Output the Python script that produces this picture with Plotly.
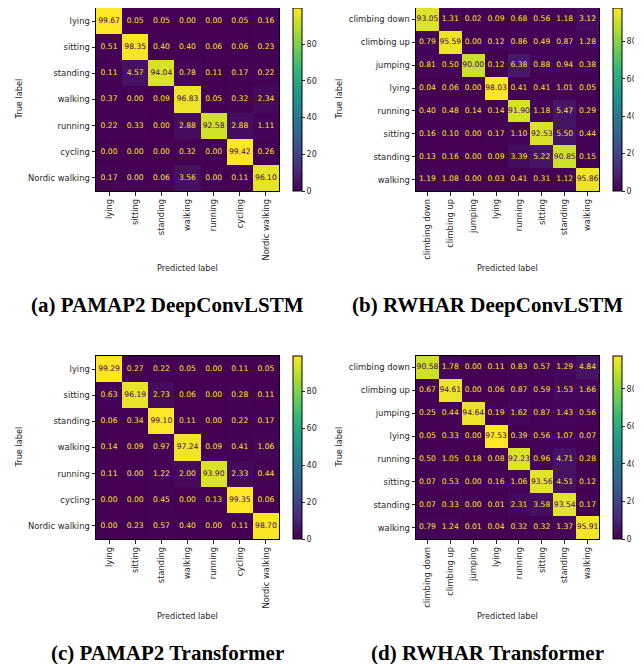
import plotly.graph_objects as go

OFF = 8  # default page body margin
W, H = 642 - OFF, 664 - OFF

pamap_labels = ["lying", "sitting", "standing", "walking", "running", "cycling", "Nordic walking"]
rwhar_labels = ["climbing down", "climbing up", "jumping", "lying", "running", "sitting", "standing", "walking"]

pamap_deepconv = [
    [99.67, 0.05, 0.05, 0.00, 0.00, 0.05, 0.16],
    [0.51, 98.35, 0.40, 0.40, 0.06, 0.06, 0.23],
    [0.11, 4.57, 94.04, 0.78, 0.11, 0.17, 0.22],
    [0.37, 0.00, 0.09, 96.83, 0.05, 0.32, 2.34],
    [0.22, 0.33, 0.00, 2.88, 92.58, 2.88, 1.11],
    [0.00, 0.00, 0.00, 0.32, 0.00, 99.42, 0.26],
    [0.17, 0.00, 0.06, 3.56, 0.00, 0.11, 96.10],
]
rwhar_deepconv = [
    [93.05, 1.31, 0.02, 0.09, 0.68, 0.56, 1.18, 3.12],
    [0.79, 95.59, 0.00, 0.12, 0.86, 0.49, 0.87, 1.28],
    [0.81, 0.50, 90.00, 0.12, 6.38, 0.88, 0.94, 0.38],
    [0.04, 0.06, 0.00, 98.03, 0.41, 0.41, 1.01, 0.05],
    [0.40, 0.48, 0.14, 0.14, 91.90, 1.18, 5.47, 0.29],
    [0.16, 0.10, 0.00, 0.17, 1.10, 92.53, 5.50, 0.44],
    [0.13, 0.16, 0.00, 0.09, 3.39, 5.22, 90.85, 0.15],
    [1.19, 1.08, 0.00, 0.03, 0.41, 0.31, 1.12, 95.86],
]
pamap_transformer = [
    [99.29, 0.27, 0.22, 0.05, 0.00, 0.11, 0.05],
    [0.63, 96.19, 2.73, 0.06, 0.00, 0.28, 0.11],
    [0.06, 0.34, 99.10, 0.11, 0.00, 0.22, 0.17],
    [0.14, 0.09, 0.97, 97.24, 0.09, 0.41, 1.06],
    [0.11, 0.00, 1.22, 2.00, 93.90, 2.33, 0.44],
    [0.00, 0.00, 0.45, 0.00, 0.13, 99.35, 0.06],
    [0.00, 0.23, 0.57, 0.40, 0.00, 0.11, 98.70],
]
rwhar_transformer = [
    [90.58, 1.78, 0.00, 0.11, 0.83, 0.57, 1.29, 4.84],
    [0.67, 94.61, 0.00, 0.06, 0.87, 0.59, 1.53, 1.66],
    [0.25, 0.44, 94.64, 0.19, 1.62, 0.87, 1.43, 0.56],
    [0.05, 0.33, 0.00, 97.53, 0.39, 0.56, 1.07, 0.07],
    [0.50, 1.05, 0.18, 0.08, 92.23, 0.96, 4.71, 0.28],
    [0.07, 0.53, 0.00, 0.16, 1.06, 93.56, 4.51, 0.12],
    [0.07, 0.33, 0.00, 0.01, 2.31, 3.58, 93.54, 0.17],
    [0.79, 1.24, 0.01, 0.04, 0.32, 0.32, 1.37, 95.91],
]
captions = ["(a) PAMAP2 DeepConvLSTM", "(b) RWHAR DeepConvLSTM",
            "(c) PAMAP2 Transformer", "(d) RWHAR Transformer"]
cbar_ticks = [0, 20, 40, 60, 80]

panels = [
    (pamap_deepconv, pamap_labels, 96, 8),
    (rwhar_deepconv, rwhar_labels, 416, 8),
    (pamap_transformer, pamap_labels, 96, 356),
    (rwhar_transformer, rwhar_labels, 416, 356),
]
caption_pos = [(167, 305), (487, 305), (167, 653), (487, 653)]
SIZE = 183
YELLOW = "#fde725"
PURPLE = "#440154"
TICKCOL = "#262626"


def fx(p):
    return min(max((p - OFF) / W, 0), 1)


def fy(p):
    return min(max(1 - (p - OFF) / H, 0), 1)


fig = go.Figure()
layout = {}
annotations = []

for i, (mat, labels, px, py) in enumerate(panels):
    k = i + 1
    xa = "x" if k == 1 else f"x{k}"
    ya = "y" if k == 1 else f"y{k}"
    n = len(labels)
    flat = [v for row in mat for v in row]
    zmax = max(flat)
    zmin = min(flat)
    thresh = (zmax + zmin) / 2
    fig.add_trace(go.Heatmap(
        z=mat, x=list(range(n)), y=list(range(n)), xaxis=xa, yaxis=ya,
        colorscale="Viridis", zmin=zmin, zmax=zmax, hoverinfo="skip",
        colorbar=dict(
            x=fx(px + SIZE + 14), xanchor="left", xref="paper",
            y=fy(py + SIZE / 2), yanchor="middle", yref="paper",
            len=SIZE, lenmode="pixels", thickness=9, thicknessmode="pixels",
            xpad=0, ypad=0, outlinewidth=1, outlinecolor="black",
            tickvals=cbar_ticks, ticks="outside", ticklen=3, tickcolor=TICKCOL,
            tickfont=dict(family="DejaVu Sans", size=8, color=TICKCOL),
        ),
    ))
    xs, ys, txt, cols = [], [], [], []
    for r in range(n):
        for c in range(n):
            v = mat[r][c]
            xs.append(c)
            ys.append(r)
            txt.append(f"{v:.2f}")
            cols.append(PURPLE if v >= thresh else YELLOW)
    fig.add_trace(go.Scatter(
        x=xs, y=ys, text=txt, mode="text", xaxis=xa, yaxis=ya,
        textfont=dict(family="DejaVu Sans", size=7.6, color=cols),
        hoverinfo="skip", showlegend=False,
    ))
    axkey = "xaxis" if k == 1 else f"xaxis{k}"
    aykey = "yaxis" if k == 1 else f"yaxis{k}"
    layout[axkey] = dict(
        domain=[fx(px), fx(px + SIZE)], anchor=ya,
        range=[-0.5, n - 0.5], tickvals=list(range(n)), ticktext=labels,
        tickangle=-90, ticks="outside", ticklen=3.5, tickcolor=TICKCOL,
        tickfont=dict(family="DejaVu Sans", size=8.4, color=TICKCOL),
        showline=True, mirror=True, linecolor="black", linewidth=1,
        showgrid=False, zeroline=False, fixedrange=True,
    )
    layout[aykey] = dict(
        domain=[fy(py + SIZE), fy(py)], anchor=xa,
        range=[n - 0.5, -0.5], tickvals=list(range(n)), ticktext=labels,
        ticks="outside", ticklen=3.5, tickcolor=TICKCOL,
        tickfont=dict(family="DejaVu Sans", size=8.4, color=TICKCOL),
        showline=True, mirror=True, linecolor="black", linewidth=1,
        showgrid=False, zeroline=False, fixedrange=True,
    )
    annotations.append(dict(
        text="Predicted label", x=fx(px + SIZE / 2), y=fy(py + 260),
        xref="paper", yref="paper", showarrow=False, xanchor="center", yanchor="middle",
        font=dict(family="DejaVu Sans", size=8.2, color=TICKCOL),
    ))
    annotations.append(dict(
        text="True label", x=fx(px - 78), y=fy(py + SIZE / 2),
        xref="paper", yref="paper", showarrow=False, xanchor="center", yanchor="middle",
        textangle=-90, font=dict(family="DejaVu Sans", size=8.2, color=TICKCOL),
    ))
    cx, cy = caption_pos[i]
    annotations.append(dict(
        text=f"<b>{captions[i]}</b>", x=fx(cx), y=fy(cy),
        xref="paper", yref="paper", showarrow=False, xanchor="center", yanchor="middle",
        font=dict(family="Liberation Serif", size=21, color="black"),
    ))

fig.update_layout(
    width=W, height=H, margin=dict(l=0, r=0, t=0, b=0),
    paper_bgcolor="white", plot_bgcolor="white", showlegend=False,
    annotations=annotations, **layout,
)
fig.write_html("out.html")
